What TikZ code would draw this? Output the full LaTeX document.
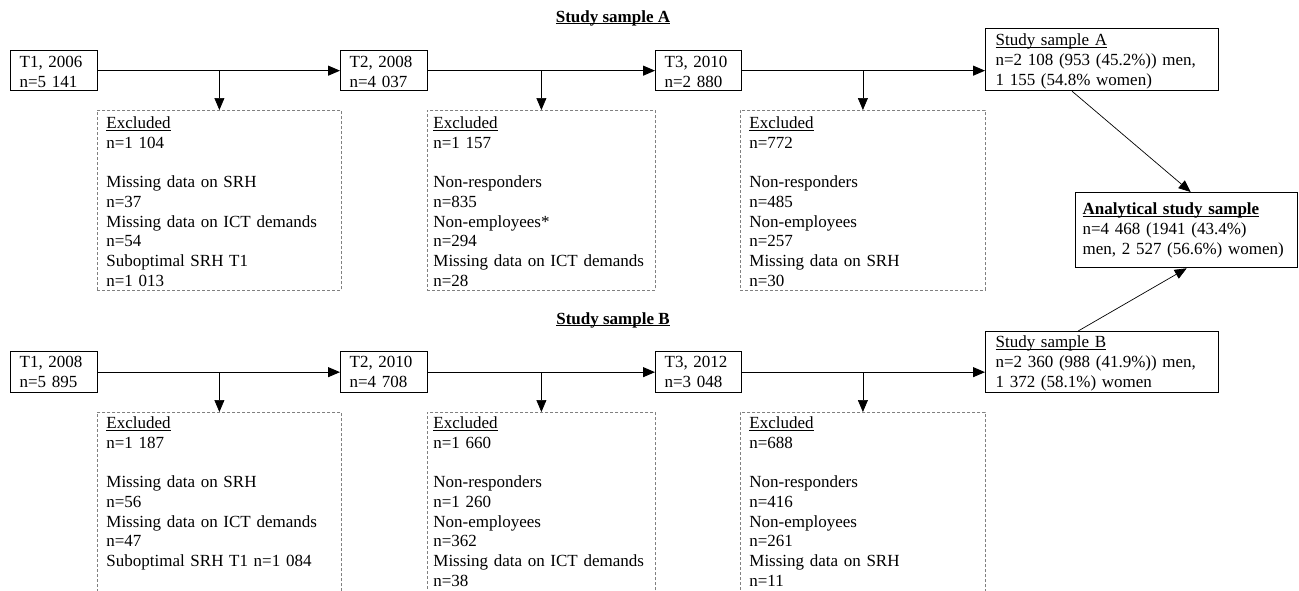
\documentclass[tikz,border=0pt]{standalone}
\usepackage{fontspec}
\setmainfont{Liberation Serif}
\newcommand{\undl}[1]{\setbox0\hbox{#1}\rlap{\rule[-2.2pt]{\wd0}{0.9pt}}\box0}
\tikzset{
  every node/.style={font=\fontsize{17pt}{19.75pt}\selectfont},
  tbox/.style={draw,line width=1.3pt,anchor=north west,align=left,inner xsep=9pt,inner ysep=0pt,text width=69pt,text height=17pt,text depth=23pt},
  sbox/.style={draw,line width=1.3pt,anchor=north west,align=left,inner xsep=10pt,inner ysep=0pt,text width=213pt},
  exbox/.style={draw=gray,dash pattern=on 3pt off 2pt,line width=0.8pt,anchor=north west,align=left,inner xsep=9pt,inner ysep=0pt,text height=18pt,text depth=162pt},
  arr/.style={line width=1pt,-{Triangle[length=12pt,width=10pt]}},
  thin arr/.style={line width=0.7pt,-{Triangle[length=12pt,width=10pt]}}
}
\usetikzlibrary{arrows.meta}
\begin{document}
\begin{tikzpicture}[x=1pt,y=-1pt]
	\useasboundingbox[fill=white] (0,0) rectangle (1299,590);

	\node (titleA) at (613,18) {\bfseries\undl{Study sample A}};
	\node[tbox] (tA1) at (10,50) {T1, 2006\\n=5 141};
	\node[tbox] (tA2) at (340,50) {T2, 2008\\n=4 037};
	\node[tbox,text width=68pt] (tA3) at (655,50) {T3, 2010\\n=2 880};
	\node[sbox,text height=17pt,text depth=45pt] (sA) at (985,28) {\undl{Study sample A}\\n=2 108 (953 (45.2\%)) men,\\1 155 (54.8\% women)};

	\node[exbox,text width=226pt] (xA1) at (97,110) {\undl{Excluded}\\n=1 104\\[19.75pt]Missing data on SRH\\n=37\\Missing data on ICT demands\\n=54\\Suboptimal SRH T1\\n=1 013};
	\node[exbox,inner xsep=6pt,text width=216pt] (xA2) at (427,110) {\undl{Excluded}\\n=1 157\\[19.75pt]Non-responders\\n=835\\Non-employees*\\n=294\\Missing data on ICT demands\\n=28};
	\node[exbox,text width=227pt] (xA3) at (740,110) {\undl{Excluded}\\n=772\\[19.75pt]Non-responders\\n=485\\Non-employees\\n=257\\Missing data on SRH\\n=30};

	\node[sbox,inner xsep=7pt,text width=208pt,text height=22pt,text depth=53pt] (ana) at (1075,192) {\bfseries\undl{Analytical study sample}\\\mdseries n=4 468 (1941 (43.4\%)\\men, 2 527 (56.6\%) women)};

	\node (titleB) at (613,320) {\bfseries\undl{Study sample B}};
	\node[tbox,text height=16pt,text depth=25pt] (tB1) at (10,351) {T1, 2008\\n=5 895};
	\node[tbox,text height=16pt,text depth=25pt] (tB2) at (340,351) {T2, 2010\\n=4 708};
	\node[tbox,text width=68pt,text height=16pt,text depth=25pt] (tB3) at (655,351) {T3, 2012\\n=3 048};
	\node[sbox,text height=16pt,text depth=45pt] (sB) at (985,331) {\undl{Study sample B}\\n=2 360 (988 (41.9\%)) men,\\1 372 (58.1\%) women};

	\node[exbox,text width=226pt,text height=16pt,text depth=164pt] (xB1) at (97,412) {\undl{Excluded}\\n=1 187\\[19.75pt]Missing data on SRH\\n=56\\Missing data on ICT demands\\n=47\\Suboptimal SRH T1 n=1 084};
	\node[exbox,inner xsep=6pt,text width=216pt,text height=16pt,text depth=164pt] (xB2) at (427,412) {\undl{Excluded}\\n=1 660\\[19.75pt]Non-responders\\n=1 260\\Non-employees\\n=362\\Missing data on ICT demands\\n=38};
	\node[exbox,text width=227pt,text height=16pt,text depth=164pt] (xB3) at (740,412) {\undl{Excluded}\\n=688\\[19.75pt]Non-responders\\n=416\\Non-employees\\n=261\\Missing data on SRH\\n=11};

	\draw[arr] (tA1) -- (tA2);
	\draw[arr] (tA2) -- (tA3);
	\draw[arr] (tA3.east) -- (tA3.east -| sA.west);
	\draw[thin arr] (xA1.north |- tA1.east) -- (xA1.north);
	\draw[thin arr] (xA2.north |- tA2.east) -- (xA2.north);
	\draw[thin arr] (xA3.north |- tA3.east) -- (xA3.north);

	\draw[arr] (tB1) -- (tB2);
	\draw[arr] (tB2) -- (tB3);
	\draw[arr] (tB3.east) -- (tB3.east -| sB.west);
	\draw[thin arr] (xB1.north |- tB1.east) -- (xB1.north);
	\draw[thin arr] (xB2.north |- tB2.east) -- (xB2.north);
	\draw[thin arr] (xB3.north |- tB3.east) -- (xB3.north);

	\draw[thin arr] ([xshift=-30pt]sA.south) -- ([xshift=4pt]ana.north);
	\draw[thin arr] ([xshift=-24pt]sB.north) -- (ana.south);
\end{tikzpicture}
\end{document}
